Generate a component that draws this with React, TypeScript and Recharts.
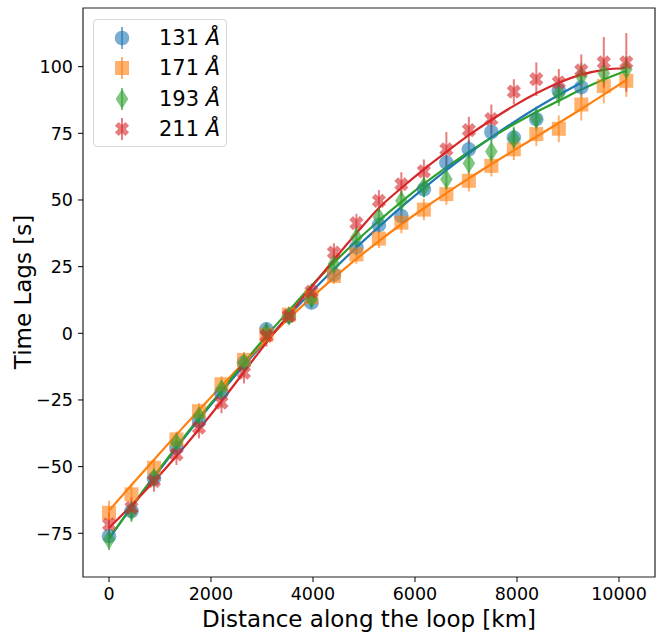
import React from "react";
import {
  ComposedChart,
  Scatter,
  Line,
  XAxis,
  YAxis,
  ErrorBar,
  ReferenceArea,
} from "recharts";

// distance along the loop for each bin [km]
const distanceKm = [
  0, 441, 882, 1323, 1764, 2205, 2646, 3087, 3528, 3969, 4410, 4851, 5292, 5733,
  6174, 6615, 7056, 7497, 7938, 8379, 8820, 9261, 9702, 10143,
];

// measured time lags [s]
const lag131 = [
  -76.1, -66.7, -54.5, -42.9, -32.9, -22.3, -11, 1.5, 6.5, 11.5, 22, 32.2, 40.6,
  44, 54, 64, 69, 75.5, 73.4, 80.3, 91, 92.3,
];
const lag171 = [
  -67.3, -60.4, -50.4, -39.8, -29.2, -19.1, -10, -0.5, 7, 13.5, 21.5, 29.6, 35.5,
  41.5, 46.4, 52.2, 57.2, 62.8, 69, 74.7, 76.7, 85.8, 92.7, 94.7,
];
const lag193 = [
  -77.3, -66.7, -54.2, -41, -31, -21, -11, 0.5, 6.5, 13, 26, 35.9, 43.5, 49.7,
  55, 57.8, 63.8, 68.2, 73, 80.5, 89.7, 96.4, 97.5, 99,
];
const lag211 = [
  -71.7, -65.4, -55.4, -45.4, -35.4, -26, -14.8, -1, 6.5, 15.6, 30.3, 41.3, 49.7,
  55.9, 60.7, 69, 76.2, 80.3, 90.6, 95.3, 94.1, 98.6, 101.6, 101.6,
];

// errors [s]
const err131 = [
  2.5, 2.5, 2, 2, 2, 2, 2, 2.5, 2, 2, 2.5, 3, 3, 3, 3, 3, 3.5, 3.5, 3.5, 3.5, 4, 4,
];
const err171 = [
  4.5, 4, 3, 3, 3, 3, 3, 3, 3, 3, 3, 3.5, 3.5, 4, 4, 4, 4, 4, 4, 4.5, 5, 6, 6.5, 6,
];
const err193 = [
  4, 4, 3, 3, 3, 3, 3, 3, 3, 3, 3, 4, 4, 4, 4, 4, 4, 4.5, 4.5, 4.5, 4.5, 5, 5, 5,
];
const err211 = [
  4.5, 4, 4, 4, 4, 4, 4, 4, 3, 3, 3.5, 3.5, 4, 4.5, 4.5, 6.5, 5, 5.5, 4.7, 6.3, 5,
  6, 9.5, 11,
];

const fit131 = [
  -77, -65.3, -54, -43, -32.3, -22, -12.1, -2.6, 6.7, 15.5, 24, 32.2, 39.9, 47.4,
  54.4, 61.2, 67.5, 73.5, 79.2, 84.5, 89.4, 94,
];
const fit171 = [
  -66.5, -56.9, -47.4, -38, -28.8, -19.8, -11, -2.5, 5.6, 13.4, 20.8, 27.9, 34.6,
  40.9, 46.9, 52.6, 58.1, 63.4, 68.6, 73.7, 78.9, 84.1, 89.5, 95,
];
const fit193 = [
  -77, -65.1, -53.6, -42.5, -31.8, -21.5, -11, -1, 8.5, 17.8, 26.5, 34.6, 42.2,
  49.3, 56, 62.2, 68, 73.4, 78.4, 83, 87.2, 91.4, 95.2, 98.5,
];
const fit211 = [
  -73, -64.5, -55.5, -46, -36, -25.5, -14.5, -3.5, 7, 17.3, 27.6, 37.5, 47, 54.5,
  61.5, 68, 74.3, 80, 85.3, 90, 94, 97, 98.8, 99.5,
];

const xTicks = [0, 2000, 4000, 6000, 8000, 10000];
const yTicks = [-75, -50, -25, 0, 25, 50, 75, 100];

const X_MIN = -510;
const X_MAX = 10706;
const Y_MIN = -91.4;
const Y_MAX = 122;

const FONT = "'DejaVu Sans', sans-serif";
const ALPHA = 0.6;

const rgba = (hex: string, a: number) => {
  const n = parseInt(hex.slice(1), 16);
  return `rgba(${(n >> 16) & 255},${(n >> 8) & 255},${n & 255},${a})`;
};

const points = (lags: number[], errs: number[]) =>
  lags.map((y, i) => ({ x: distanceKm[i], y, err: errs[i] }));
const curve = (fit: number[]) => fit.map((y, i) => ({ x: distanceKm[i], y }));

type MarkerKind = "circle" | "square" | "thin_diamond" | "x";

function Marker({ kind, cx, cy, color }: { kind: MarkerKind; cx: number; cy: number; color: string }) {
  const fill = color;
  if (kind === "circle") return <circle cx={cx} cy={cy} r={7.3} fill={fill} fillOpacity={ALPHA} />;
  if (kind === "square")
    return <rect x={cx - 7} y={cy - 7} width={14} height={14} fill={fill} fillOpacity={ALPHA} />;
  if (kind === "thin_diamond")
    return (
      <polygon
        points={`${cx},${cy - 10} ${cx + 6.3},${cy} ${cx},${cy + 10} ${cx - 6.3},${cy}`}
        fill={fill}
        fillOpacity={ALPHA}
      />
    );
  // filled X: a plus rotated by 45 degrees
  const a = 0.36;
  const s = 7.4;
  const plus = [
    [a, 1], [a, a], [1, a], [1, -a], [a, -a], [a, -1],
    [-a, -1], [-a, -a], [-1, -a], [-1, a], [-a, a], [-a, 1],
  ];
  const c = Math.SQRT1_2;
  const pts = plus
    .map(([px, py]) => `${cx + s * c * (px - py)},${cy + s * c * (px + py)}`)
    .join(" ");
  return <polygon points={pts} fill={fill} fillOpacity={ALPHA} />;
}

const series = [
  { name: "131", color: "#1f77b4", kind: "circle" as MarkerKind, data: points(lag131, err131), fit: curve(fit131) },
  { name: "171", color: "#ff7f0e", kind: "square" as MarkerKind, data: points(lag171, err171), fit: curve(fit171) },
  { name: "193", color: "#2ca02c", kind: "thin_diamond" as MarkerKind, data: points(lag193, err193), fit: curve(fit193) },
  { name: "211", color: "#d62728", kind: "x" as MarkerKind, data: points(lag211, err211), fit: curve(fit211) },
];

const minus = (v: number) => (v < 0 ? `\u2212${Math.abs(v)}` : `${v}`);

function XTick(props: any) {
  const { x, y, payload } = props;
  return (
    <text x={x} y={y} dy="0.71em" textAnchor="middle" fontSize={17.5} fontFamily={FONT} fill="#000">
      {minus(payload.value)}
    </text>
  );
}

function YTick(props: any) {
  const { x, y, payload } = props;
  return (
    <text x={x} y={y} dy="0.36em" textAnchor="end" fontSize={17.5} fontFamily={FONT} fill="#000">
      {minus(payload.value)}
    </text>
  );
}

function LegendBox() {
  return (
    <div
      style={{
        position: "absolute",
        left: 93,
        top: 19,
        width: 132,
        height: 126,
        border: "1px solid #d6d6d6",
        borderRadius: 4,
        background: "rgba(255,255,255,0.8)",
        fontFamily: FONT,
      }}
    >
      {series.map((s, i) => (
        <div key={s.name} style={{ position: "absolute", left: 0, top: 3 + i * 30.3, height: 30, width: 132 }}>
          <svg width={30} height={30} style={{ position: "absolute", left: 13, top: 0 }}>
            <line x1={15} x2={15} y1={4} y2={26} stroke={rgba(s.color, ALPHA)} strokeWidth={2} />
            <Marker kind={s.kind} cx={15} cy={15} color={s.color} />
          </svg>
          <span
            style={{
              position: "absolute",
              left: 65,
              top: 0,
              lineHeight: "30px",
              fontSize: 21,
              whiteSpace: "nowrap",
              color: "#000",
            }}
          >
            {s.name} <span style={{ fontStyle: "italic" }}>Å</span>
          </span>
        </div>
      ))}
    </div>
  );
}

export default function App() {
  return (
    <div style={{ position: "absolute", left: 0, top: 0, width: 664, height: 640, background: "#fff" }}>
      <ComposedChart width={664} height={640} margin={{ top: 8, right: 9, bottom: 0, left: 0 }}>
        <XAxis
          type="number"
          dataKey="x"
          domain={[X_MIN, X_MAX]}
          allowDataOverflow
          ticks={xTicks}
          height={63}
          axisLine={false}
          tickSize={5}
          tickMargin={6}
          tickLine={{ stroke: "#000", strokeWidth: 1 }}
          tick={<XTick />}
        />
        <YAxis
          type="number"
          dataKey="y"
          domain={[Y_MIN, Y_MAX]}
          allowDataOverflow
          ticks={yTicks}
          width={83}
          axisLine={false}
          tickSize={5}
          tickMargin={5}
          tickLine={{ stroke: "#000", strokeWidth: 1 }}
          tick={<YTick />}
        />
        {series.map((s) => (
          <Scatter
            key={`pts-${s.name}`}
            data={s.data}
            dataKey="y"
            isAnimationActive={false}
            shape={(p: any) => <Marker kind={s.kind} cx={p.cx} cy={p.cy} color={s.color} />}
          >
            <ErrorBar dataKey="err" direction="y" width={0} stroke={rgba(s.color, ALPHA)} strokeWidth={2} />
          </Scatter>
        ))}
        {series.map((s) => (
          <Line
            key={`fit-${s.name}`}
            data={s.fit}
            dataKey="y"
            type="monotone"
            stroke={s.color}
            strokeWidth={2.2}
            dot={false}
            activeDot={false}
            isAnimationActive={false}
          />
        ))}
        <ReferenceArea
          x1={X_MIN}
          x2={X_MAX}
          y1={Y_MIN}
          y2={Y_MAX}
          fill="none"
          fillOpacity={0}
          stroke="#222"
          strokeWidth={1.2}
        />
        <text x={369} y={627} textAnchor="middle" fontSize={23} fontFamily={FONT} fill="#000">
          Distance along the loop [km]
        </text>
        <text
          transform="translate(31,292) rotate(-90)"
          textAnchor="middle"
          fontSize={23}
          fontFamily={FONT}
          fill="#000"
        >
          Time Lags [s]
        </text>
      </ComposedChart>
      <LegendBox />
    </div>
  );
}
